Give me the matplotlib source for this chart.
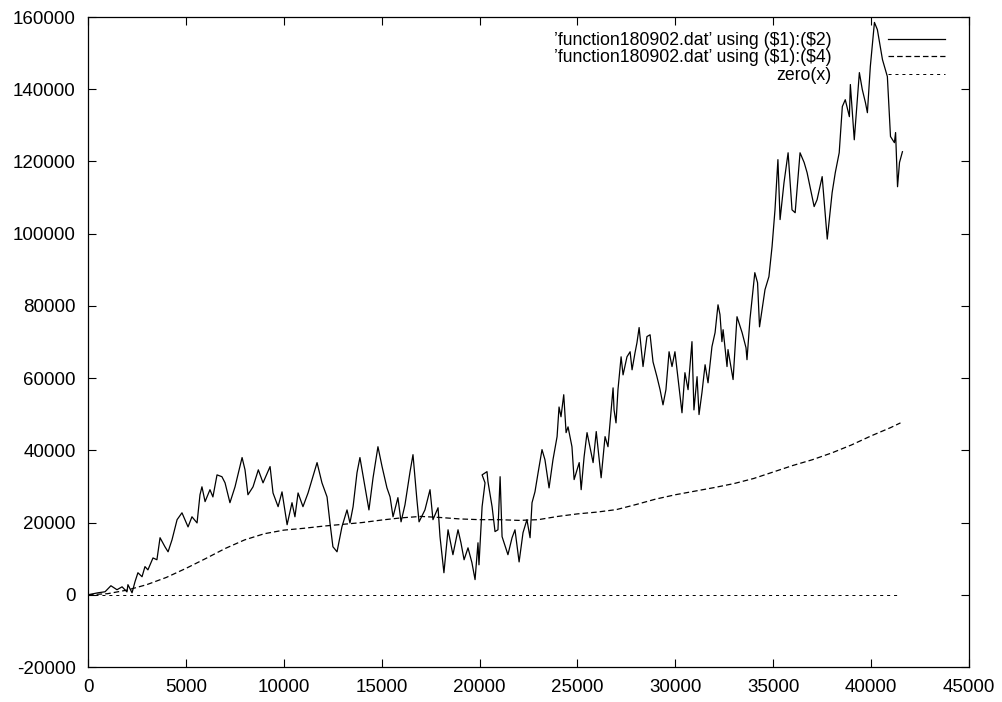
import matplotlib
matplotlib.use('Agg')
import matplotlib.pyplot as plt

# column 1 vs column 2 of function180902.dat
x_col2 = [0, 510, 870, 1170, 1480, 1740, 1990, 2040, 2250, 2400,
          2550, 2760, 2910, 3060, 3320, 3520, 3680, 3930, 4090, 4290,
          4550, 4800, 4950, 5110, 5310, 5570, 5720, 5820, 5980, 6230,
          6380, 6590, 6840, 7000, 7250, 7510, 7870, 8020, 8170, 8430,
          8700, 8940, 9300, 9450, 9710, 9910, 10170, 10420, 10570, 10730,
          10980, 11240, 11700, 11950, 12210, 12360, 12510, 12720, 12970, 13230,
          13380, 13540, 13740, 13890, 14150, 14350, 14560, 14810, 15020, 15270,
          15430, 15580, 15830, 15990, 16190, 16450, 16600, 16800, 16910, 17210,
          17470, 17620, 17880, 17980, 18180, 18390, 18540, 18640, 18900, 19050,
          19210, 19410, 19610, 19770, 19920, 19970, 20130, 20280, 20130, 20380,
          20430, 20640, 20790, 20940, 21050, 21150, 21450, 21660, 21810, 22020,
          22220, 22420, 22580, 22680, 22830, 22990, 23190, 23340, 23550, 23750,
          23960, 24060, 24160, 24300, 24420, 24520, 24720, 24830, 25090, 25190,
          25340, 25490, 25600, 25800, 25960, 26210, 26410, 26560, 26820, 26870,
          26970, 27070, 27230, 27330, 27530, 27690, 27790, 27940, 28040, 28150,
          28350, 28550, 28710, 28860, 29060, 29220, 29370, 29520, 29680, 29830,
          29980, 30340, 30490, 30650, 30850, 30950, 31110, 31210, 31360, 31520,
          31670, 31870, 32030, 32180, 32280, 32380, 32440, 32640, 32690, 32950,
          33150, 33410, 33610, 33660, 33810, 33970, 34060, 34200, 34300, 34580,
          34780, 34940, 35090, 35240, 35350, 35550, 35760, 35960, 36120, 36370,
          36580, 36730, 36880, 37090, 37240, 37500, 37760, 38010, 38170, 38370,
          38530, 38680, 38890, 38940, 39140, 39400, 39550, 39710, 39810, 39960,
          40170, 40320, 40580, 40830, 40990, 41190, 41250, 41350, 41450, 41600]
y_col2 = [0, 550, 830, 2500, 1400, 2200, 800, 2800, 550, 3600,
          6100, 5000, 7800, 6900, 10200, 9700, 15800, 13300, 11900, 15200,
          20800, 22700, 20800, 18800, 21600, 19900, 27700, 29900, 25800, 29100,
          27100, 33200, 32700, 31000, 25500, 29900, 38000, 34600, 27700, 29900,
          34600, 31000, 35500, 28200, 24400, 28500, 19400, 25500, 21600, 28200,
          24400, 28200, 36600, 31000, 27100, 19900, 13300, 11900, 18800, 23500,
          19900, 24400, 33800, 38000, 29900, 23500, 32400, 41000, 35500, 29600,
          27100, 21600, 26900, 20200, 24900, 34100, 38800, 26300, 20200, 23500,
          29100, 20800, 24100, 16100, 6100, 18000, 13900, 11100, 18000, 14400,
          9700, 13000, 8900, 4200, 14400, 8300, 24400, 31000, 33200, 34100,
          31300, 24400, 17500, 18000, 32700, 16100, 11100, 15800, 18000, 9100,
          17200, 20800, 15800, 25500, 28500, 33800, 40200, 37400, 29600, 37400,
          43800, 52000, 49300, 55400, 44900, 46500, 41000, 31900, 36600, 29100,
          38200, 44900, 42000, 36600, 45200, 32400, 43800, 41000, 57300, 51200,
          47600, 56800, 65900, 60900, 65900, 67300, 62300, 67000, 69800, 74000,
          63200, 71500, 72000, 64500, 60400, 56800, 52600, 56800, 67300, 63200,
          67300, 50400, 61500, 56800, 70100, 51200, 60400, 49900, 56000, 63700,
          58700, 68700, 72600, 80300, 77600, 70100, 73400, 63200, 67900, 59600,
          77000, 72600, 68400, 65100, 76200, 84500, 89200, 86400, 74200, 84500,
          88100, 96400, 106600, 120500, 103900, 114100, 122400, 106600, 105800, 122400,
          119700, 116900, 113000, 107500, 109400, 115800, 98500, 111400, 116900, 122400,
          135200, 137100, 132400, 141300, 126000, 144600, 139900, 136300, 133500, 146300,
          158500, 156500, 148200, 143500, 126900, 125200, 128000, 113000, 119700, 122700]

# column 1 vs column 4
x_col4 = [0, 1000, 2000, 3000, 4000, 5000, 6000, 7000, 8000, 9000, 10000, 11000, 12000,
          13000, 14000, 15000, 16000, 17000, 18000, 19000, 20000, 21000, 22000, 23000,
          24000, 25000, 26000, 27000, 28000, 29000, 30000, 31000, 32000, 33000, 34000,
          35000, 36000, 37000, 38000, 39000, 40000, 41000, 41500]
y_col4 = [0, 300, 1300, 2800, 4800, 7300, 10000, 12800, 15200, 16900, 17900, 18400, 19000,
          19500, 20000, 20700, 21300, 21700, 21400, 21000, 20800, 20800, 20600, 20800,
          21700, 22400, 22900, 23600, 25000, 26500, 27700, 28700, 29700, 30800, 32200,
          34000, 35800, 37400, 39300, 41500, 44000, 46300, 47600]

# zero(x)
x_zero = [0, 41500]
y_zero = [0, 0]

xticks = list(range(0, 45001, 5000))
yticks = list(range(-20000, 160001, 20000))

plt.rcParams['font.family'] = ['Liberation Sans', 'DejaVu Sans']
plt.rcParams['font.size'] = 13.5
plt.rcParams['lines.scale_dashes'] = False

fig = plt.figure(figsize=(10.02, 7.02), dpi=100)
ax = fig.add_axes([88 / 1002, 35 / 702, 881 / 1002, 650 / 702])

ax.plot(x_col2, y_col2, color='black', lw=0.9,
        label='\u2019function180902.dat\u2019 using (\\$1):(\\$2)')
ax.plot(x_col4, y_col4, color='black', lw=0.9, linestyle=(0, (4.0, 2.2)),
        label='\u2019function180902.dat\u2019 using (\\$1):(\\$4)')
ax.plot(x_zero, y_zero, color='black', lw=0.7, linestyle=(0, (2.2, 2.8)),
        label='zero(x)')

ax.set_xlim(0, 45000)
ax.set_ylim(-20000, 160000)
ax.set_xticks(xticks)
ax.set_yticks(yticks)
ax.set_xticklabels([str(t) for t in xticks])
ax.set_yticklabels([str(t) for t in yticks])
ax.tick_params(direction='in', length=6, width=0.8, top=True, right=True, pad=9,
               colors='black', labelsize=13.5)
for s in ax.spines.values():
    s.set_linewidth(0.9)

ax.legend(loc='upper right', bbox_to_anchor=(0.9728, 0.9767), markerfirst=False,
          frameon=False, fontsize=12.7, handlelength=3.24, handletextpad=3.18,
          labelspacing=0.015, borderaxespad=0, borderpad=0)

fig.savefig('out.png', dpi=100)
